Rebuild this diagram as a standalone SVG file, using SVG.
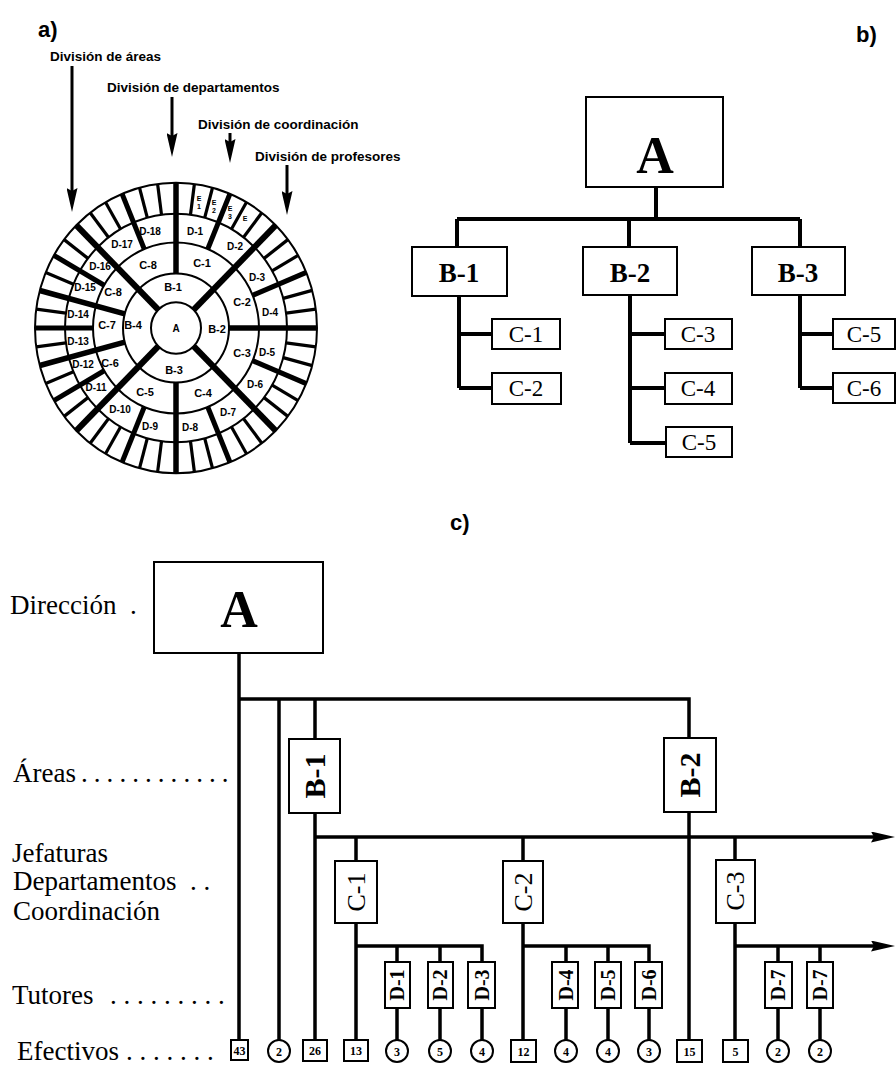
<svg xmlns="http://www.w3.org/2000/svg" width="896" height="1068" viewBox="0 0 896 1068">
<style>
.ln{stroke:#000;stroke-width:3.5;fill:none}
.lb{stroke:#000;stroke-width:4;fill:none}
.la{stroke:#000;stroke-width:3;fill:none}
.bx{fill:#fff;stroke:#000;stroke-width:2}
.ring{fill:none;stroke:#000;stroke-width:2}
.rb line{stroke:#000;stroke-width:6}
.rc line{stroke:#000;stroke-width:5.5}
.rd line{stroke:#000;stroke-width:5}
.re line{stroke:#000;stroke-width:3.2}
.lab{font-family:"Liberation Sans",Arial,sans-serif;font-weight:bold;font-size:13.5px}
.rl{font-family:"Liberation Sans",Arial,sans-serif;font-weight:bold;font-size:10px;text-anchor:middle}
.rl2{font-family:"Liberation Sans",Arial,sans-serif;font-weight:bold;font-size:11px;text-anchor:middle}
.el{font-family:"Liberation Sans",Arial,sans-serif;font-weight:bold;font-size:7px;text-anchor:middle}
.ser{font-family:"Liberation Serif","Times New Roman",serif;font-size:27px}
.bs{font-family:"Liberation Serif","Times New Roman",serif;font-weight:bold;text-anchor:middle}
.rs{font-family:"Liberation Serif","Times New Roman",serif;text-anchor:middle}
.hd{font-family:"Liberation Sans",Arial,sans-serif;font-weight:bold;font-size:22px}
.num{font-family:"Liberation Serif","Times New Roman",serif;font-weight:bold;font-size:12px;text-anchor:middle}
</style>
<defs>
<marker id="arr" viewBox="0 0 24 11" refX="14" refY="5.5" markerWidth="24" markerHeight="11" markerUnits="userSpaceOnUse" orient="auto">
<path d="M0,0 L24,5.5 L0,11 L3,5.5 z" fill="#000"/>
</marker>
</defs>
<rect width="896" height="1068" fill="#fff"/>

<!-- section labels -->
<text class="hd" x="38" y="37">a)</text>
<text class="hd" x="856" y="42">b)</text>
<text class="hd" x="450" y="530">c)</text>

<!-- ===== a) circular diagram ===== -->
<g id="circle-diagram">
<g id="ring-lines" transform="translate(176,328) scale(1,1.03)">
<g class="re">
<line x1="111" x2="141" transform="rotate(7.5)"/>
<line x1="111" x2="141" transform="rotate(15)"/>
<line x1="111" x2="141" transform="rotate(30)"/>
<line x1="111" x2="141" transform="rotate(37.5)"/>
<line x1="111" x2="141" transform="rotate(52.5)"/>
<line x1="111" x2="141" transform="rotate(60)"/>
<line x1="111" x2="141" transform="rotate(75)"/>
<line x1="111" x2="141" transform="rotate(82.5)"/>
<line x1="111" x2="141" transform="rotate(97.5)"/>
<line x1="111" x2="141" transform="rotate(105)"/>
<line x1="111" x2="141" transform="rotate(120)"/>
<line x1="111" x2="141" transform="rotate(127.5)"/>
<line x1="111" x2="141" transform="rotate(142.5)"/>
<line x1="111" x2="141" transform="rotate(157.5)"/>
<line x1="111" x2="141" transform="rotate(172.5)"/>
<line x1="111" x2="141" transform="rotate(187.5)"/>
<line x1="111" x2="141" transform="rotate(202.5)"/>
<line x1="111" x2="141" transform="rotate(217.5)"/>
<line x1="111" x2="141" transform="rotate(232.5)"/>
<line x1="111" x2="141" transform="rotate(240)"/>
<line x1="111" x2="141" transform="rotate(255)"/>
<line x1="111" x2="141" transform="rotate(262.5)"/>
<line x1="111" x2="141" transform="rotate(277.5)"/>
<line x1="111" x2="141" transform="rotate(285)"/>
<line x1="111" x2="141" transform="rotate(300)"/>
<line x1="111" x2="141" transform="rotate(307.5)"/>
<line x1="111" x2="141" transform="rotate(322.5)"/>
<line x1="111" x2="141" transform="rotate(330)"/>
<line x1="111" x2="141" transform="rotate(345)"/>
<line x1="111" x2="141" transform="rotate(352.5)"/>
</g>
<g class="rd">
<line x1="83" x2="141" transform="rotate(22.5)"/>
<line x1="83" x2="141" transform="rotate(67.5)"/>
<line x1="83" x2="141" transform="rotate(112.5)"/>
<line x1="83" x2="141" transform="rotate(150)"/>
<line x1="83" x2="141" transform="rotate(180)"/>
<line x1="83" x2="141" transform="rotate(210)"/>
<line x1="83" x2="141" transform="rotate(247.5)"/>
<line x1="83" x2="141" transform="rotate(292.5)"/>
<line x1="83" x2="141" transform="rotate(337.5)"/>
</g>
<g class="rc">
<line x1="53" x2="141" transform="rotate(0)"/>
<line x1="53" x2="141" transform="rotate(90)"/>
<line x1="53" x2="141" transform="rotate(165)"/>
<line x1="53" x2="141" transform="rotate(195)"/>
<line x1="53" x2="141" transform="rotate(270)"/>
</g>
<g class="rb">
<line x1="25" x2="141" transform="rotate(45)"/>
<line x1="25" x2="141" transform="rotate(135)"/>
<line x1="25" x2="141" transform="rotate(225)"/>
<line x1="25" x2="141" transform="rotate(315)"/>
</g>
<circle class="ring" r="25"/>
<circle class="ring" r="53"/>
<circle class="ring" r="83"/>
<circle class="ring" r="111"/>
<circle class="ring" r="141" stroke-width="3"/>
</g>
<g id="ring-labels">
<text class="rl" x="176" y="332">A</text>
<text class="rl2" x="173" y="291">B-1</text>
<text class="rl2" x="217" y="333">B-2</text>
<text class="rl2" x="174" y="374">B-3</text>
<text class="rl2" x="133" y="329">B-4</text>
<text class="rl2" x="202" y="267">C-1</text>
<text class="rl2" x="242" y="306">C-2</text>
<text class="rl2" x="242" y="357">C-3</text>
<text class="rl2" x="203" y="397">C-4</text>
<text class="rl2" x="145" y="396">C-5</text>
<text class="rl2" x="110" y="367">C-6</text>
<text class="rl2" x="107" y="329">C-7</text>
<text class="rl2" x="113" y="296">C-8</text>
<text class="rl2" x="148" y="269">C-8</text>
<text class="rl" x="195" y="235">D-1</text>
<text class="rl" x="235" y="250">D-2</text>
<text class="rl" x="257" y="281">D-3</text>
<text class="rl" x="270" y="316">D-4</text>
<text class="rl" x="267" y="356">D-5</text>
<text class="rl" x="255" y="388">D-6</text>
<text class="rl" x="228" y="416">D-7</text>
<text class="rl" x="190" y="431">D-8</text>
<text class="rl" x="150" y="430">D-9</text>
<text class="rl" x="120" y="413">D-10</text>
<text class="rl" x="96" y="391">D-11</text>
<text class="rl" x="83" y="368">D-12</text>
<text class="rl" x="78" y="345">D-13</text>
<text class="rl" x="78" y="318">D-14</text>
<text class="rl" x="85" y="291">D-15</text>
<text class="rl" x="100" y="270">D-16</text>
<text class="rl" x="122" y="248">D-17</text>
<text class="rl" x="150" y="235">D-18</text>
<text class="el" x="199" y="201">E<tspan x="199" dy="8">1</tspan></text>
<text class="el" x="214" y="205">E<tspan x="214" dy="8">2</tspan></text>
<text class="el" x="230" y="211">E<tspan x="230" dy="8">3</tspan></text>
<text class="el" x="245" y="221">E</text>
</g>
</g>

<g id="division-labels">
<text class="lab" x="50" y="61">División de áreas</text>
<text class="lab" x="107" y="92">División de departamentos</text>
<text class="lab" x="198" y="129">División de coordinación</text>
<text class="lab" x="255" y="161">División de profesores</text>
<g class="la">
<line x1="72" y1="66" x2="72" y2="202" marker-end="url(#arr)"/>
<line x1="172" y1="97" x2="172" y2="147" marker-end="url(#arr)"/>
<line x1="230" y1="133" x2="230" y2="153" marker-end="url(#arr)"/>
<line x1="287" y1="165" x2="287" y2="205" marker-end="url(#arr)"/>
</g>
</g>

<!-- ===== b) tree ===== -->
<g id="b-connectors" class="lb">
<path d="M656,187 V219 M457,219 H800 M457,219 V247 M629,219 V247 M800,219 V247"/>
<path d="M459,296 V388 M459,334 H492 M459,388 H492"/>
<path d="M630,295 V443 M630,334 H665 M630,388 H665 M630,443 H666"/>
<path d="M800,295 V388 M800,334 H833 M800,388 H833"/>
</g>
<g id="b-A"><rect class="bx" x="586" y="97" width="137" height="90"/><text class="bs" x="655" y="173" font-size="52">A</text></g>
<g id="b-B1"><rect class="bx" x="412" y="247" width="95" height="49"/><text class="bs" x="459" y="282" font-size="27">B-1</text></g>
<g id="b-B2"><rect class="bx" x="583" y="247" width="94" height="48"/><text class="bs" x="630" y="282" font-size="27">B-2</text></g>
<g id="b-B3"><rect class="bx" x="752" y="247" width="93" height="48"/><text class="bs" x="798" y="282" font-size="27">B-3</text></g>
<g id="b-C1"><rect class="bx" x="492" y="319" width="68" height="30"/><text class="rs" x="526" y="342" font-size="23">C-1</text></g>
<g id="b-C2"><rect class="bx" x="492" y="373" width="69" height="31"/><text class="rs" x="526" y="396" font-size="23">C-2</text></g>
<g id="b-C3"><rect class="bx" x="665" y="319" width="67" height="30"/><text class="rs" x="698" y="342" font-size="23">C-3</text></g>
<g id="b-C4"><rect class="bx" x="665" y="373" width="67" height="31"/><text class="rs" x="698" y="396" font-size="23">C-4</text></g>
<g id="b-C5a"><rect class="bx" x="666" y="427" width="66" height="30"/><text class="rs" x="699" y="450" font-size="23">C-5</text></g>
<g id="b-C5b"><rect class="bx" x="833" y="319" width="62" height="30"/><text class="rs" x="864" y="342" font-size="23">C-5</text></g>
<g id="b-C6"><rect class="bx" x="833" y="373" width="62" height="30"/><text class="rs" x="864" y="396" font-size="23">C-6</text></g>

<!-- ===== c) chart ===== -->
<g id="c-levels" class="ser">
<text x="10" y="614">Dirección <tspan x="130">.</tspan></text>
<text y="782"><tspan x="13">Áreas</tspan><tspan x="81" word-spacing="-0.7">. . . . . . . . . . . .</tspan></text>
<text x="12" y="862">Jefaturas</text>
<text y="890"><tspan x="13">Departamentos</tspan><tspan x="190">. .</tspan></text>
<text x="13" y="920">Coordinación</text>
<text y="1004"><tspan x="12">Tutores</tspan><tspan x="110">. . . . . . . . .</tspan></text>
<text y="1060"><tspan x="17">Efectivos</tspan><tspan x="126">. . . . . . .</tspan></text>
</g>

<g id="c-connectors" class="ln">
<path d="M239,653 V1040 M239,699 H689 V738 M279,699 V1040 M315,699 V739 M315,813 V1040"/>
<path d="M689,812 V1040"/>
<path d="M315,837 H885" marker-end="url(#arr)"/>
<path d="M356,837 V861 M356,923 V1040 M356,946 H482 V962 M397,946 V962 M440,946 V962"/>
<path d="M397,1008 V1040 M440,1008 V1040 M482,1008 V1040"/>
<path d="M523,837 V861 M523,923 V1040 M523,946 H649 V962 M566,946 V962 M608,946 V962"/>
<path d="M566,1008 V1040 M608,1008 V1040 M649,1008 V1040"/>
<path d="M735,837 V860 M735,923 V1040"/>
<path d="M735,946 H885" marker-end="url(#arr)"/>
<path d="M778,946 V962 M820,946 V962 M778,1008 V1040 M820,1008 V1040"/>
</g>

<g id="c-A"><rect class="bx" x="154" y="562" width="169" height="91"/><text class="bs" x="239" y="627" font-size="52">A</text></g>
<g id="c-B1"><rect class="bx" x="289" y="739" width="51" height="74"/><text class="bs" font-size="30" transform="translate(315,776) rotate(-90)" y="10">B-1</text></g>
<g id="c-B2"><rect class="bx" x="664" y="738" width="52" height="74"/><text class="bs" font-size="30" transform="translate(690,775) rotate(-90)" y="10">B-2</text></g>
<g id="c-C1"><rect class="bx" x="335" y="861" width="42" height="62"/><text class="rs" font-size="26" transform="translate(356,892) rotate(-90)" y="9">C-1</text></g>
<g id="c-C2"><rect class="bx" x="503" y="861" width="40" height="62"/><text class="rs" font-size="26" transform="translate(523,892) rotate(-90)" y="9">C-2</text></g>
<g id="c-C3"><rect class="bx" x="716" y="860" width="39" height="63"/><text class="rs" font-size="26" transform="translate(735,891) rotate(-90)" y="9">C-3</text></g>
<g id="c-D1"><rect class="bx" x="385" y="962" width="25" height="46"/><text class="bs" font-size="20" transform="translate(397,985) rotate(-90)" y="7">D-1</text></g>
<g id="c-D2"><rect class="bx" x="428" y="962" width="25" height="46"/><text class="bs" font-size="20" transform="translate(440,985) rotate(-90)" y="7">D-2</text></g>
<g id="c-D3"><rect class="bx" x="468" y="962" width="27" height="46"/><text class="bs" font-size="20" transform="translate(482,985) rotate(-90)" y="7">D-3</text></g>
<g id="c-D4"><rect class="bx" x="552" y="962" width="26" height="46"/><text class="bs" font-size="20" transform="translate(566,985) rotate(-90)" y="7">D-4</text></g>
<g id="c-D5"><rect class="bx" x="595" y="962" width="26" height="46"/><text class="bs" font-size="20" transform="translate(608,985) rotate(-90)" y="7">D-5</text></g>
<g id="c-D6"><rect class="bx" x="635" y="962" width="27" height="46"/><text class="bs" font-size="20" transform="translate(649,985) rotate(-90)" y="7">D-6</text></g>
<g id="c-D7a"><rect class="bx" x="765" y="962" width="27" height="46"/><text class="bs" font-size="20" transform="translate(778,985) rotate(-90)" y="7">D-7</text></g>
<g id="c-D7b"><rect class="bx" x="807" y="962" width="26" height="46"/><text class="bs" font-size="20" transform="translate(820,985) rotate(-90)" y="7">D-7</text></g>

<g id="c-totals">
<rect class="bx" x="231" y="1040" width="17" height="20"/><text class="num" x="239.5" y="1054.5">43</text>
<circle class="bx" cx="279" cy="1051" r="11"/><text class="num" x="279" y="1055.5">2</text>
<rect class="bx" x="303" y="1040" width="24" height="21"/><text class="num" x="315" y="1055">26</text>
<rect class="bx" x="344" y="1040" width="24" height="21"/><text class="num" x="356" y="1055">13</text>
<circle class="bx" cx="397" cy="1051" r="11"/><text class="num" x="397" y="1055.5">3</text>
<circle class="bx" cx="440" cy="1051" r="11"/><text class="num" x="440" y="1055.5">5</text>
<circle class="bx" cx="482" cy="1051" r="11"/><text class="num" x="482" y="1055.5">4</text>
<rect class="bx" x="511" y="1040" width="25" height="22"/><text class="num" x="523.5" y="1055.5">12</text>
<circle class="bx" cx="566" cy="1051" r="11"/><text class="num" x="566" y="1055.5">4</text>
<circle class="bx" cx="608" cy="1051" r="11"/><text class="num" x="608" y="1055.5">4</text>
<circle class="bx" cx="649" cy="1051" r="11"/><text class="num" x="649" y="1055.5">3</text>
<rect class="bx" x="677" y="1040" width="25" height="22"/><text class="num" x="689.5" y="1055.5">15</text>
<rect class="bx" x="723" y="1040" width="25" height="22"/><text class="num" x="735.5" y="1055.5">5</text>
<circle class="bx" cx="778" cy="1051" r="11"/><text class="num" x="778" y="1055.5">2</text>
<circle class="bx" cx="820" cy="1051" r="11"/><text class="num" x="820" y="1055.5">2</text>
</g>
</svg>
